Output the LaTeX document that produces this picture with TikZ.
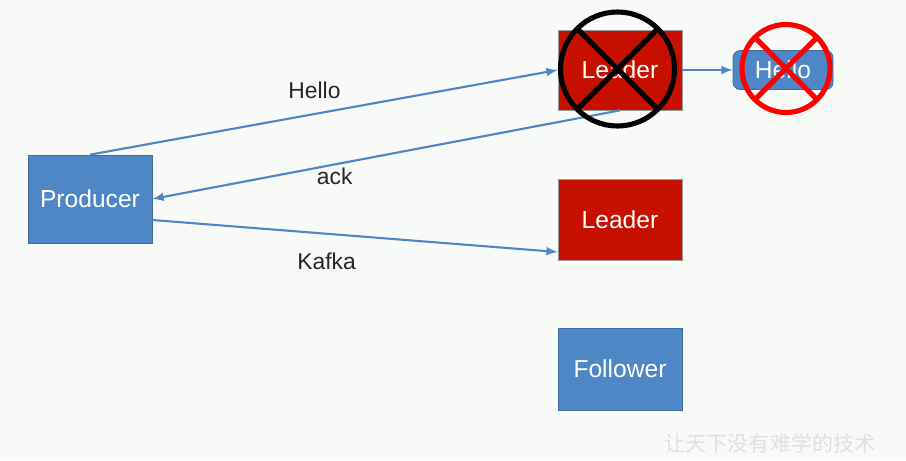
\documentclass[tikz,border=0pt]{standalone}
\usepackage{fontspec}
\setmainfont{Liberation Sans}
\newfontfamily\cjk{Noto Sans CJK SC}
\usetikzlibrary{positioning,calc}
\definecolor{boxblue}{RGB}{79,134,198}
\definecolor{boxred}{RGB}{200,16,0}
\definecolor{linkblue}{RGB}{79,134,198}
\definecolor{paper}{RGB}{248,250,247}
\tikzset{broker/.style = {shape=rectangle,draw=black!40,fill=boxred,text=white,font=\fontsize{14}{16}\selectfont,minimum width=2.48cm,minimum height=1.6cm}}
\tikzset{client/.style = {shape=rectangle,draw=boxblue!80!black,fill=boxblue,text=white,font=\fontsize{14}{16}\selectfont,minimum width=2.48cm,minimum height=1.64cm}}
\tikzset{msg/.style = {shape=rectangle,rounded corners=4pt,draw=boxblue!80!black,fill=boxblue,text=white,font=\fontsize{14}{16}\selectfont,minimum width=2cm,minimum height=0.78cm}}
\tikzset{edge/.style = {->,>=latex,draw=linkblue,line width=1.2pt}}
\tikzset{cross/.style = {line width=2.9pt}}

\begin{document}
\begin{tikzpicture}[font=\fontsize{13}{15}\selectfont]
          \fill[paper] (0,0) rectangle (18.12,9.2);
          \useasboundingbox (0,0) rectangle (18.12,9.2);

          \node[client,minimum height=1.76cm] (prod) at (1.8, 5.22) {Producer};
          \node[broker] (lead1) at (12.4, 7.8) {Leader};
          \node[broker,minimum height=1.62cm] (lead2) at (12.4, 4.81) {Leader};
          \node[client] (foll) at (12.4, 1.82) {Follower};
          \node[msg] (hello) at (15.66, 7.8) {Hello};

          \draw[edge] (prod.north) to node[text=black!85,pos=0.48, yshift=0.48cm] {Hello} (lead1.west);
          \draw[edge] (lead1.south) to node[text=black!85,pos=0.61, yshift=-0.24cm] {ack} (prod.east);
          \draw[edge] ([yshift=-0.42cm]prod.east) to node[text=black!85,pos=0.43, yshift=-0.56cm] {Kafka} ([yshift=-0.65cm]lead2.west);
          \draw[edge] (lead1.east) to (hello.west);

          % crossed out
          \coordinate (c1) at (12.35, 7.82);
          \draw[cross,black] (c1) circle (1.14);
          \draw[cross,black] ($(c1)+(135:1.14)$) -- ($(c1)+(-45:1.14)$);
          \draw[cross,black] ($(c1)+(45:1.14)$) -- ($(c1)+(-135:1.14)$);
          \coordinate (c2) at (15.72, 7.83);
          \draw[cross,red] (c2) circle (0.88);
          \draw[cross,red] ($(c2)+(135:0.88)$) -- ($(c2)+(-45:0.88)$);
          \draw[cross,red] ($(c2)+(45:0.88)$) -- ($(c2)+(-135:0.88)$);

          \node[text=black!12,font=\cjk\fontsize{12}{14}\selectfont] (mark) at (15.4, 0.34) {让天下没有难学的技术};
        \end{tikzpicture}
\end{document}
